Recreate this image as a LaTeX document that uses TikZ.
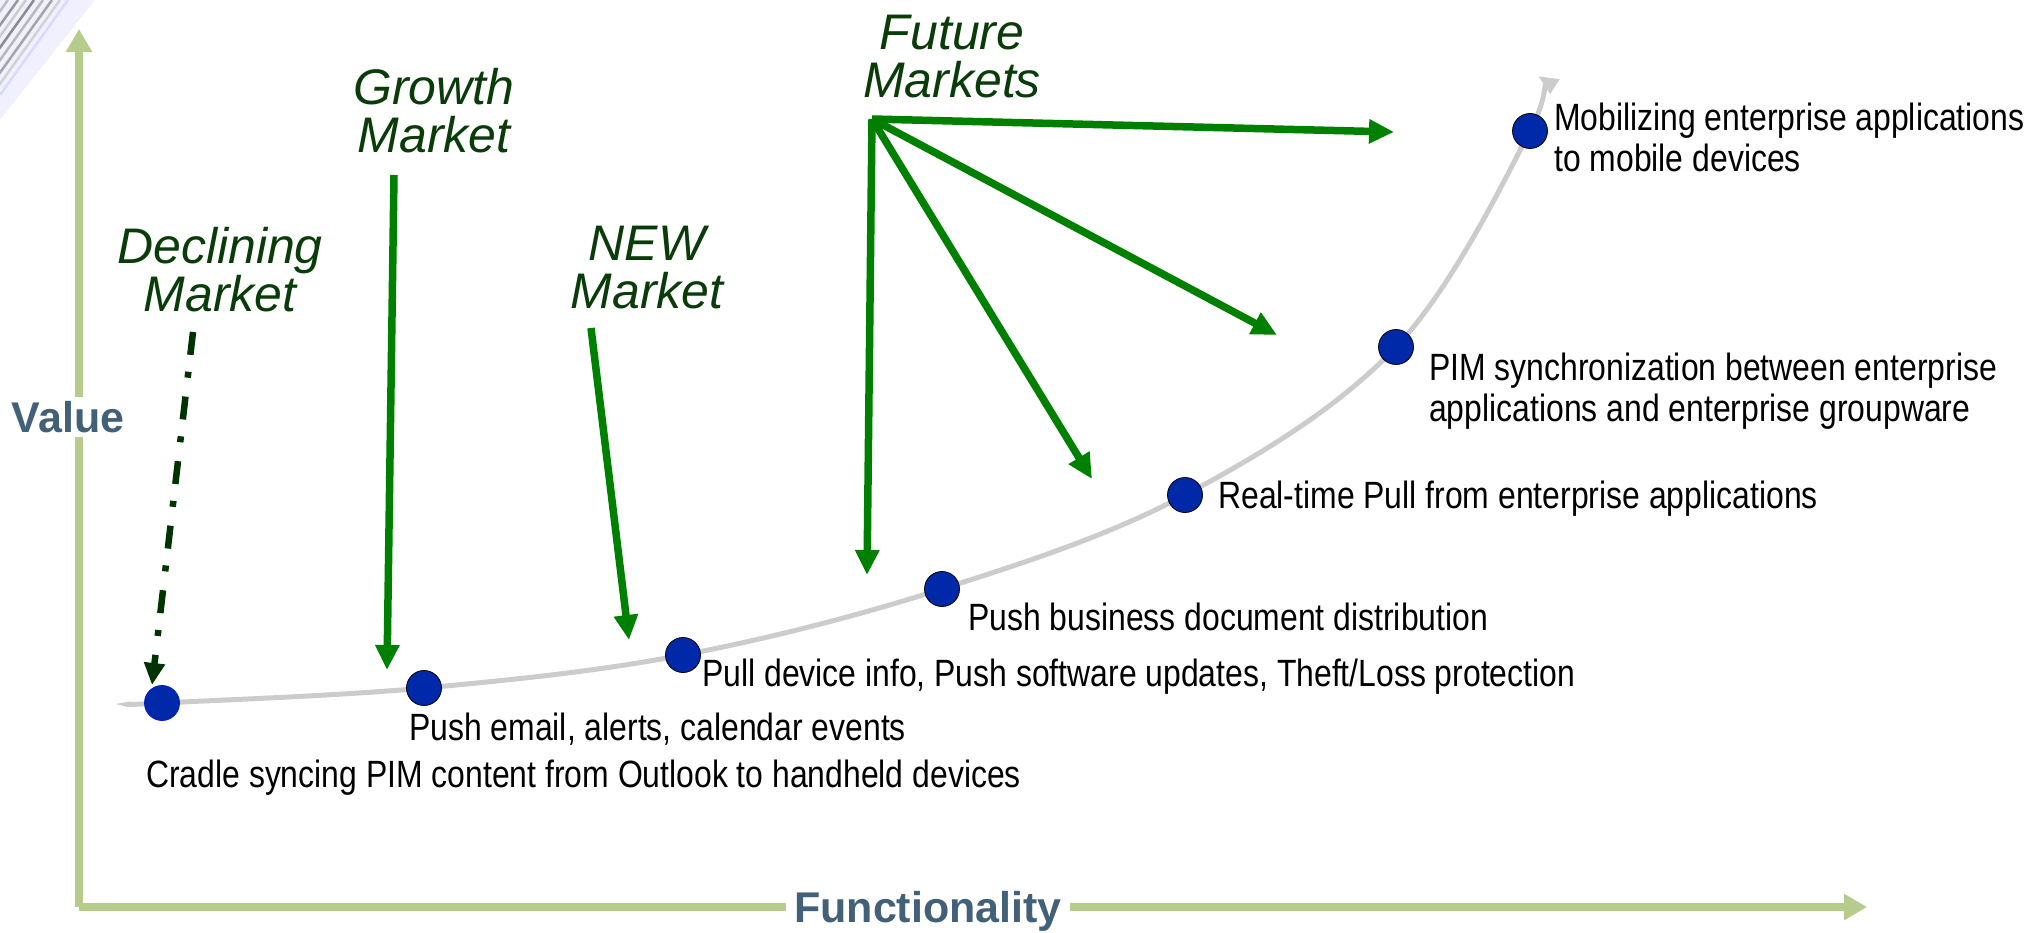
\documentclass[tikz,border=0pt]{standalone}
\usepackage{fontspec}
\setmainfont{Liberation Sans}
\newfontfamily\lblfont[FakeStretch=0.84]{Liberation Sans}
\usetikzlibrary{arrows.meta}
\definecolor{axisgreen}{RGB}{181,204,140}
\definecolor{axistext}{RGB}{66,96,120}
\definecolor{arrowgreen}{RGB}{0,128,0}
\definecolor{darkgreen}{RGB}{0,51,0}
\definecolor{mkttext}{RGB}{10,60,10}
\definecolor{dotblue}{RGB}{0,41,170}
\definecolor{curvegray}{RGB}{204,204,204}
\tikzset{
  axisline/.style={draw=axisgreen, line width=8pt, -{Triangle[length=23pt,width=25pt]}},
  axislabel/.style={fill=white, inner xsep=8pt, inner ysep=4pt, text=axistext, font=\fontsize{43}{45}\selectfont\bfseries},
  curveline/.style={draw=curvegray, line width=5pt, -{Triangle[length=20pt,width=16pt]}},
  dot/.style={circle, fill=dotblue, draw=black, line width=0.8pt, minimum size=35pt, inner sep=0pt},
  steplabel/.style={anchor=west, inner sep=0pt, align=left, font=\lblfont\fontsize{38}{41}\selectfont},
  mktlabel/.style={align=center, inner sep=0pt, text=mkttext, font=\fontsize{50}{48}\selectfont\itshape},
  mktarrow/.style={draw=arrowgreen, line width=7.5pt, -{Triangle[length=25pt,width=23pt]}},
  declarrow/.style={draw=darkgreen, line width=6.5pt, dash pattern=on 23pt off 17pt on 6pt off 19pt, -{Triangle[length=22pt,width=20pt]}},
}
\begin{document}
\begin{tikzpicture}[x=1pt,y=-1pt]
\useasboundingbox (0,0) rectangle (2031,933);
% decorative corner
\begin{scope}
  \clip (0,0) -- (95,0) -- (0,120) -- cycle;
  \fill[blue!6] (0,0) -- (95,0) -- (0,120) -- cycle;
  \foreach \o/\c in {-60/gray!50,-50/gray!80,-42/gray!40,-34/gray!90,-25/gray!55,-16/gray!70,-8/gray!35,0/blue!15}
    \draw[\c, line width=2.5pt] (\o,95) -- (\o+68,0);
\end{scope}
% axes
\coordinate (origin) at (79,907);
\coordinate (vtop) at (79,29);
\coordinate (hright) at (1867,907);
\draw[axisline] (origin) -- (vtop);
\draw[axisline] (origin) -- (hright);
\node[axislabel] (value) at (68,417) {Value};
\node[axislabel] (func) at (928,911) {Functionality};
% curve
\coordinate (cstart) at (130,704);
\coordinate (ctip) at (1538,76);
\draw[curveline] plot[smooth, tension=0.6] coordinates {(130,704) (162,703) (424,688) (683,655) (942,589) (1185,495) (1396,347) (1530,131) (1538,76)};
% dots
\node[dot, draw=blue!40!dotblue] (d1) at (162,703) {};
\node[dot] (d2) at (424,688) {};
\node[dot] (d3) at (683,655) {};
\node[dot] (d4) at (942,589) {};
\node[dot] (d5) at (1185,495) {};
\node[dot] (d6) at (1396,347) {};
\node[dot] (d7) at (1530,131) {};
% step labels
\node[steplabel] (l1) at (146,778) {Cradle syncing PIM content from Outlook to handheld devices};
\node[steplabel] (l2) at (409,729) {Push email, alerts, calendar events};
\node[steplabel] (l3) at (702,677) {Pull device info, Push software updates, Theft/Loss protection};
\node[steplabel] (l4) at (968,617) {Push business document distribution};
\node[steplabel] (l5) at (1218,499) {Real-time Pull from enterprise applications};
\node[steplabel] (l6) at (1429,391) {PIM synchronization between enterprise\\applications and enterprise groupware};
\node[steplabel] (l7) at (1554,137) {Mobilizing enterprise applications\\to mobile devices};
% market labels
\node[mktlabel] (declining) at (220,270) {Declining\\Market};
\node[mktlabel] (growth) at (434,111) {Growth\\Market};
\node[mktlabel] (new) at (647,268) {NEW\\Market};
\node[mktlabel] (future) at (952,57) {Future\\Markets};
% market arrows
\coordinate (decS) at (193,332);
\coordinate (decT) at (152,685);
\draw[declarrow] (decS) -- (decT);
\coordinate (growS) at (394,175);
\coordinate (growT) at (387,670);
\draw[mktarrow] (growS) -- (growT);
\coordinate (newS) at (591,328);
\coordinate (newT) at (629,640);
\draw[mktarrow] (newS) -- (newT);
\coordinate (futS) at (872,119);
\coordinate (futT1) at (1394,132);
\coordinate (futT2) at (1277,335);
\coordinate (futT3) at (1092,479);
\coordinate (futT4) at (867,575);
\draw[mktarrow] (futS) -- (futT1);
\draw[mktarrow] (futS) -- (futT2);
\draw[mktarrow] (futS) -- (futT3);
\draw[mktarrow] (futS) -- (futT4);
\end{tikzpicture}
\end{document}
